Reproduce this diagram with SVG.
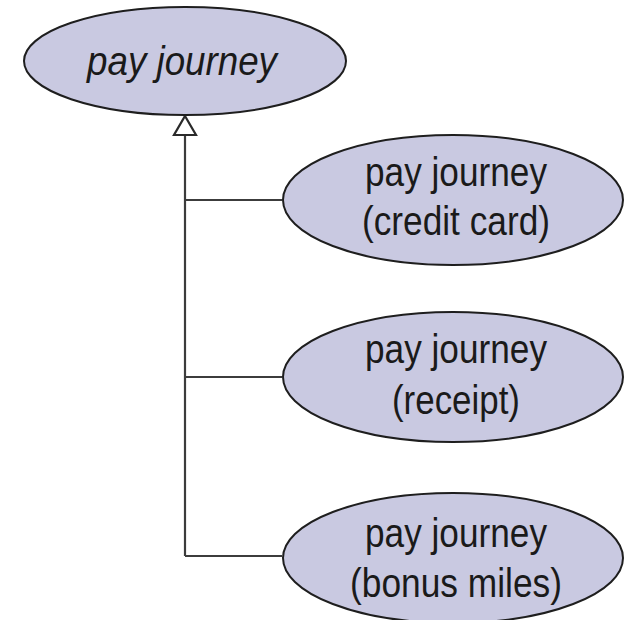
<svg xmlns="http://www.w3.org/2000/svg" width="624" height="620" viewBox="0 0 624 620">
  <defs>
    <style>
      .node ellipse { fill: #c9c9e1; stroke: #1e1e1e; stroke-width: 2; }
      .node text { font-family: "Liberation Sans", Arial, sans-serif; font-size: 40px; fill: #1a1a1a; text-anchor: middle; }
      .conn { fill: none; stroke: #3c3c3c; stroke-width: 2.2; }
      .head { fill: #ffffff; stroke: #2a2a2a; stroke-width: 2.2; }
    </style>
  </defs>
  <rect width="624" height="620" fill="#ffffff"/>
  <g id="connectors">
    <path class="conn" d="M185 135 V556"/>
    <path class="conn" d="M185 200 H282"/>
    <path class="conn" d="M185 377 H282"/>
    <path class="conn" d="M185 556 H282"/>
    <path class="head" d="M185 116 L196 135 L174 135 Z"/>
  </g>
  <g id="pay-journey" class="node">
    <ellipse cx="185" cy="61" rx="161" ry="54"/>
    <text x="182" y="75" font-style="italic" textLength="190" lengthAdjust="spacingAndGlyphs">pay journey</text>
  </g>
  <g id="pay-journey-credit-card" class="node">
    <ellipse cx="453" cy="200" rx="170" ry="65"/>
    <text x="456" y="186" textLength="182" lengthAdjust="spacingAndGlyphs">pay journey</text>
    <text x="456" y="235" textLength="188" lengthAdjust="spacingAndGlyphs">(credit card)</text>
  </g>
  <g id="pay-journey-receipt" class="node">
    <ellipse cx="453" cy="377" rx="170" ry="65"/>
    <text x="456" y="363" textLength="182" lengthAdjust="spacingAndGlyphs">pay journey</text>
    <text x="456" y="414" textLength="128" lengthAdjust="spacingAndGlyphs">(receipt)</text>
  </g>
  <g id="pay-journey-bonus-miles" class="node">
    <ellipse cx="453" cy="558" rx="170" ry="65"/>
    <text x="456" y="547" textLength="182" lengthAdjust="spacingAndGlyphs">pay journey</text>
    <text x="456" y="597" textLength="212" lengthAdjust="spacingAndGlyphs">(bonus miles)</text>
  </g>
</svg>
